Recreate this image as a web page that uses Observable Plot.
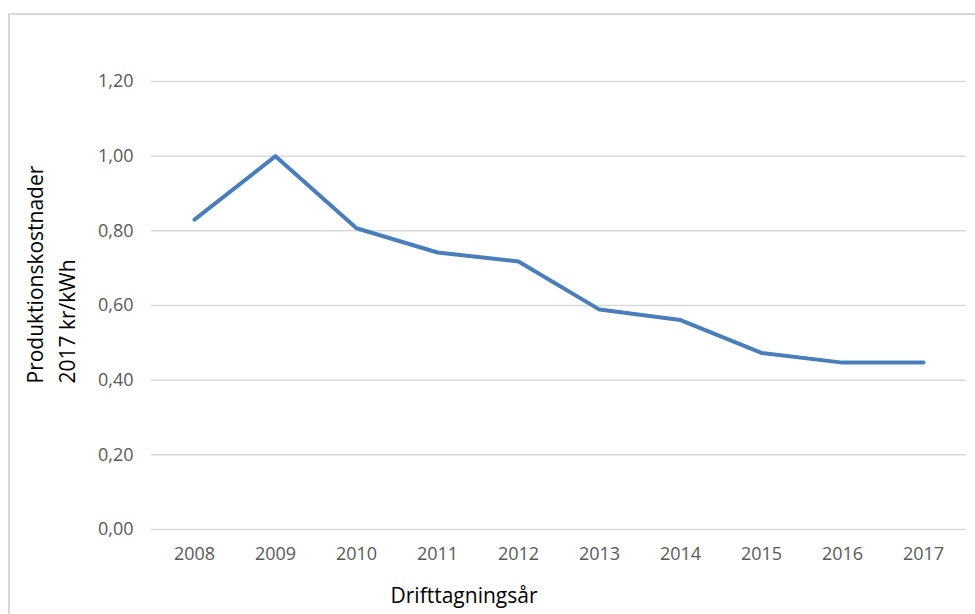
<!DOCTYPE html>
<html>
<head>
<meta charset="utf-8">
<script src="https://cdn.jsdelivr.net/npm/d3@7"></script>
<script src="https://cdn.jsdelivr.net/npm/@observablehq/plot@0.6"></script>
<style>
  html, body { margin: 0; padding: 0; background: #fff; width: 975px; height: 614px; overflow: hidden; }
  #wrap { position: relative; width: 975px; height: 614px; }
  #border { position: absolute; left: 8px; top: 13px; width: 1000px; height: 700px; border: 2px solid #d9d9d9; box-sizing: border-box; }
  #chart { position: absolute; left: 0; top: 0; }
</style>
</head>
<body>
<div id="wrap"><div id="border"></div><div id="chart"></div></div>
<script>
const years = ["2008", "2009", "2010", "2011", "2012", "2013", "2014", "2015", "2016", "2017"];
const costs = [0.83, 1.00, 0.807, 0.742, 0.718, 0.589, 0.561, 0.473, 0.447, 0.447];
const yTicks = [0, 0.2, 0.4, 0.6, 0.8, 1.0, 1.2];
const xTitle = "Drifttagningsår";
const yTitle = "Produktionskostnader\n2017 kr/kWh";

const data = years.map((y, i) => ({year: y, cost: costs[i]}));
const fmt = d => d.toFixed(2).replace(".", ",");

const chart = Plot.plot({
  width: 975,
  height: 614,
  marginLeft: 151,
  marginRight: 9,
  marginTop: 81,
  marginBottom: 85,
  style: {fontFamily: "'Open Sans', sans-serif", background: "transparent"},
  x: {type: "point", domain: years, padding: 0.5},
  y: {domain: [0, 1.2]},
  marks: [
    Plot.gridY(yTicks, {stroke: "#d9d9d9", strokeOpacity: 1, strokeWidth: 1.5}),
    Plot.axisY(yTicks, {tickSize: 0, tickPadding: 18, tickFormat: fmt, fontSize: 18, fill: "#595959", label: null}),
    Plot.axisX({tickSize: 0, tickPadding: 18, fontSize: 18, fill: "#595959", label: null}),
    Plot.lineY(data, {x: "year", y: "cost", stroke: "#4a7ebb", strokeWidth: 4}),
    Plot.text([xTitle], {frameAnchor: "bottom", dx: -95, dy: 73, fontSize: 21, fill: "#000"}),
    Plot.text([yTitle], {frameAnchor: "bottom-left", dx: -77, dy: -146, rotate: -90, textAnchor: "start", lineHeight: 1.5, fontSize: 21, fill: "#000"})
  ]
});
document.getElementById("chart").appendChild(chart);
</script>
</body>
</html>
